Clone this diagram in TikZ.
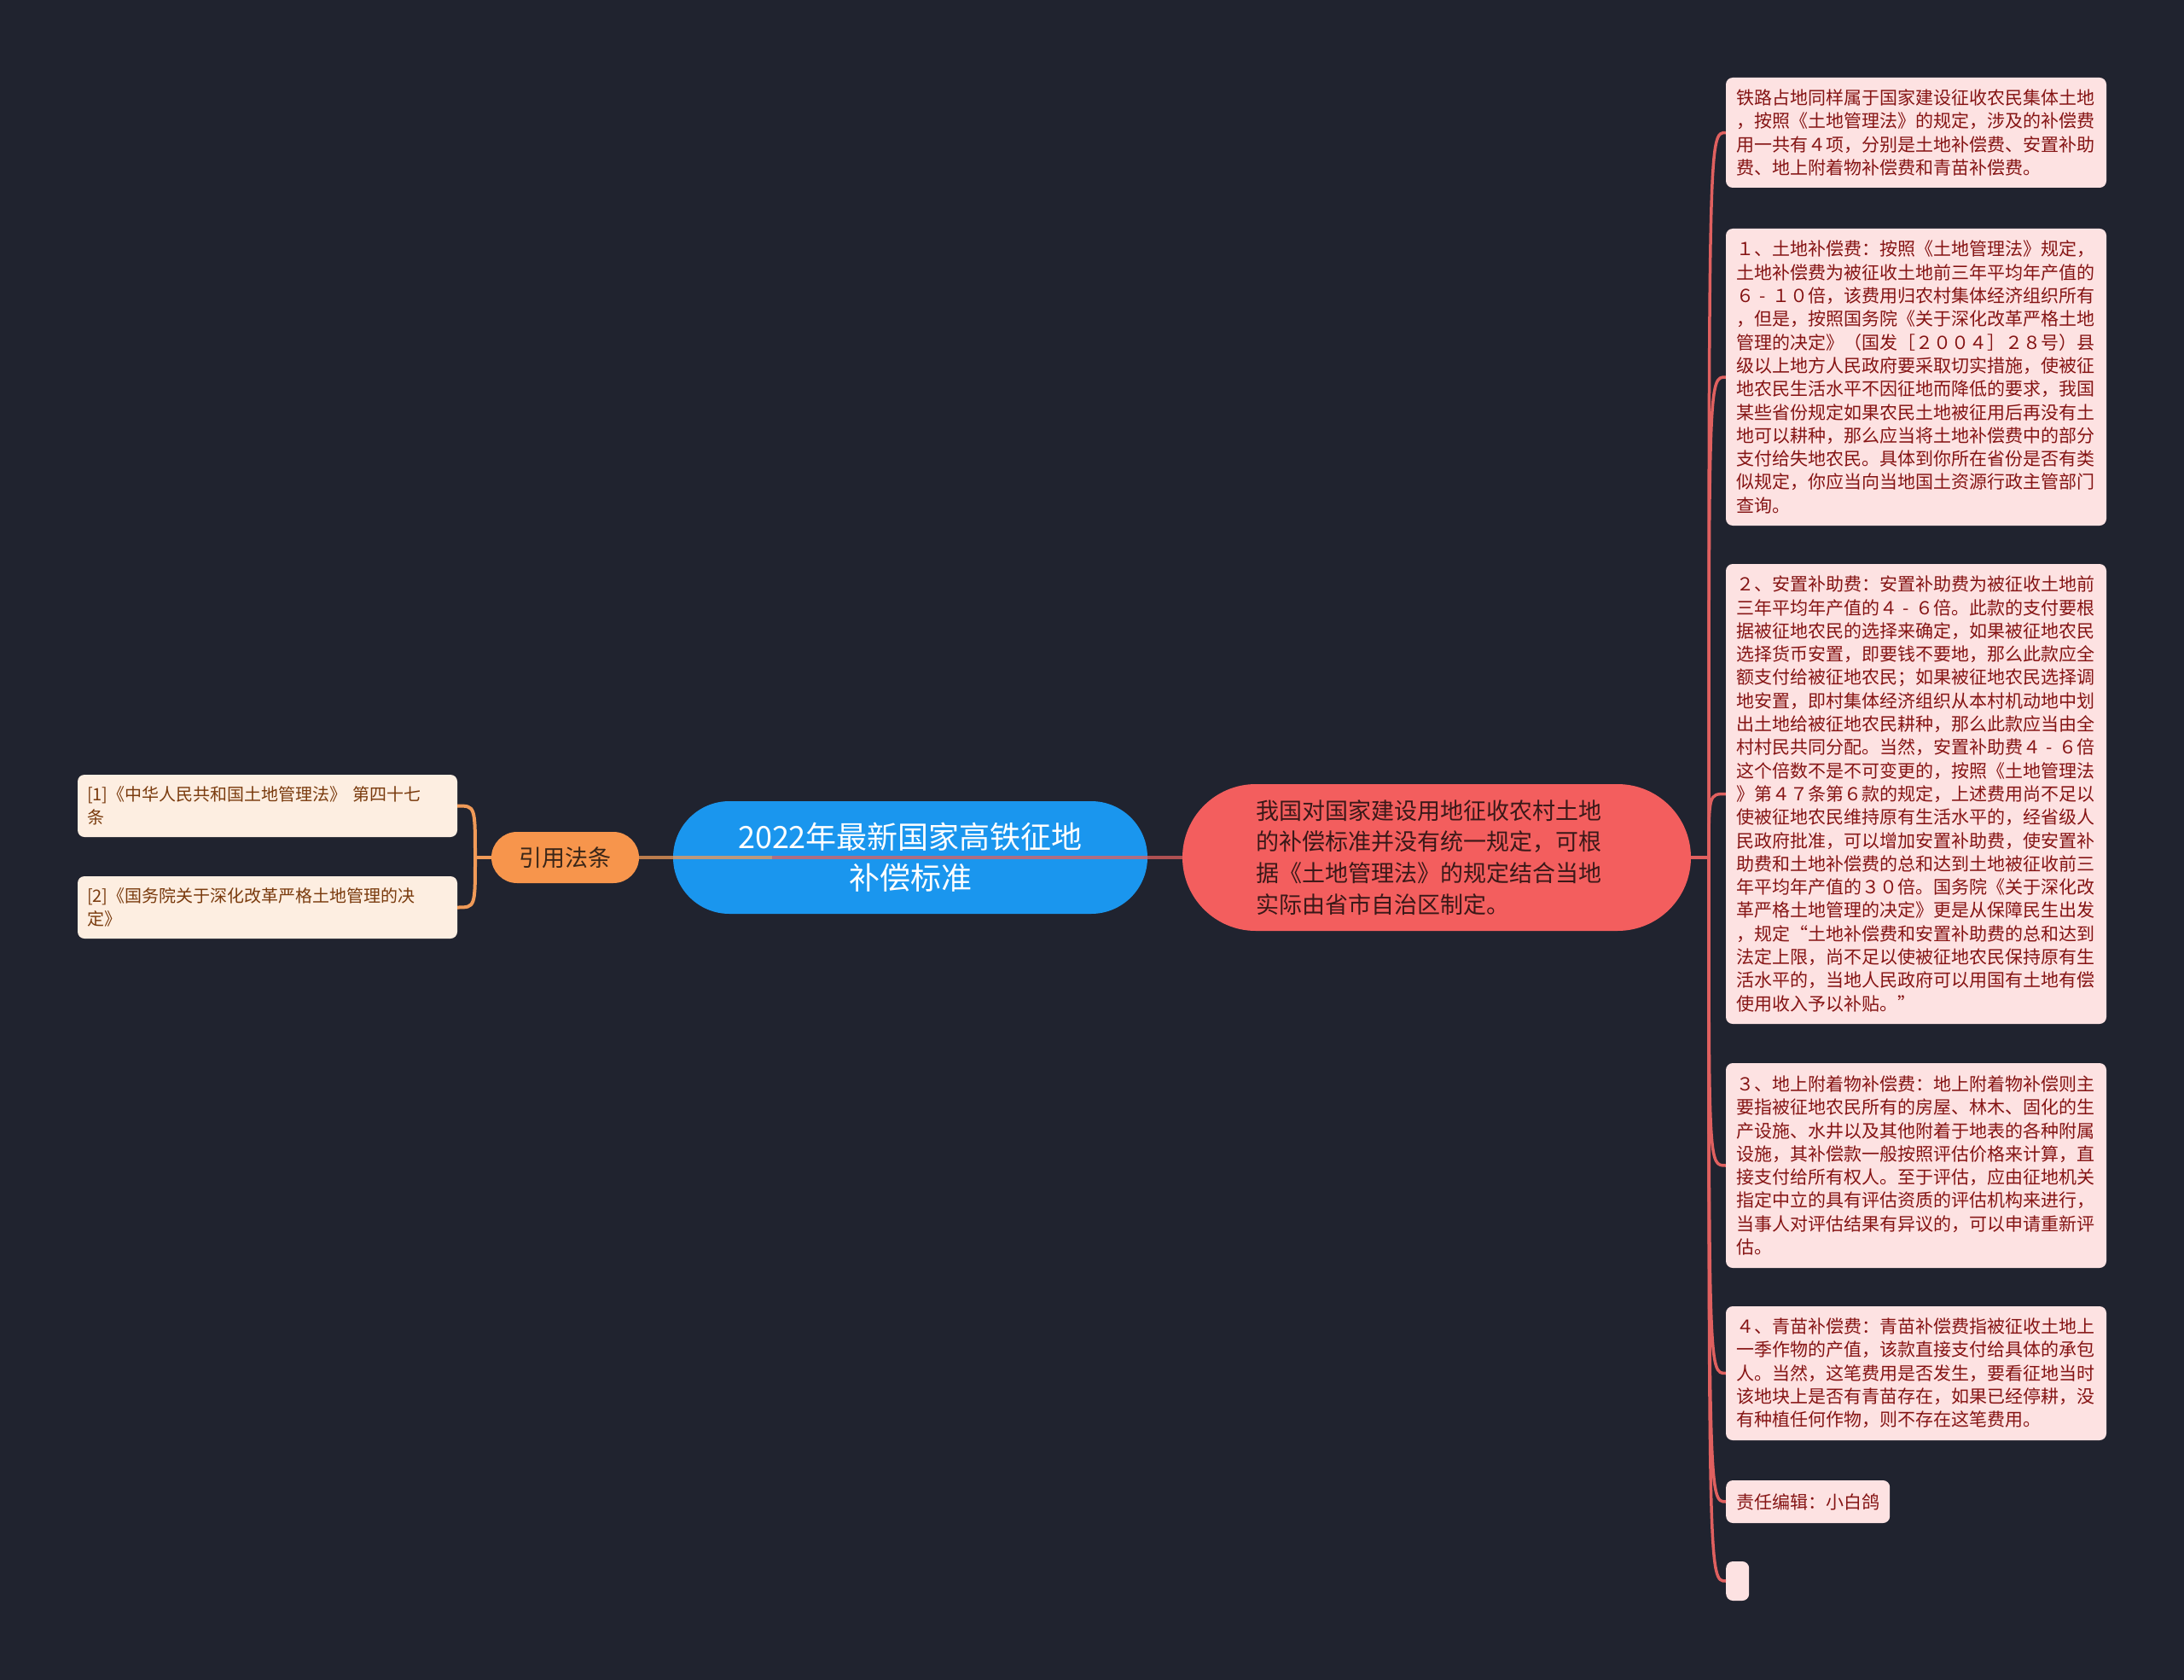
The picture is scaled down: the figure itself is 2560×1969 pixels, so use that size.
\documentclass[tikz,border=0pt]{standalone}
\usepackage{fontspec}
\setmainfont{Noto Sans CJK SC}

\definecolor{bg}{HTML}{20232F}
\definecolor{rootblue}{HTML}{1A96EE}
\definecolor{mainred}{HTML}{F35E5E}
\definecolor{maintext}{HTML}{3A1818}
\definecolor{refor}{HTML}{F7954C}
\definecolor{refortext}{HTML}{3A2618}
\definecolor{leafpink}{HTML}{FDE2E2}
\definecolor{leaftext}{HTML}{851414}
\definecolor{refpeach}{HTML}{FDEEE1}
\definecolor{reftext}{HTML}{7A3B0E}
\definecolor{linered}{HTML}{E0605F}
\definecolor{lineor}{HTML}{F09A58}

\newcommand{\fwdash}{\makebox[1em]{-}}

\begin{document}
\begin{tikzpicture}[x=1pt,y=-1pt]\tikzstyle{every node} = [align=left, inner sep=0pt]
      \tikzstyle{leafbase} = [fill=leafpink, text=leaftext, rounded corners=8pt,
        inner xsep=12pt, inner ysep=10pt, font={\fontsize{21pt}{27.3pt}\selectfont}]
      \tikzstyle{leaf} = [leafbase, text width=422pt]
      \tikzstyle{refleaf} = [fill=refpeach, text=reftext, rounded corners=8pt,
        inner xsep=11pt, text width=423pt, minimum height=73pt,
        font={\fontsize{20pt}{27pt}\selectfont}]
      \tikzstyle{redline} = [draw=linered, line width=3.5pt]
      \tikzstyle{orline} = [draw=lineor, line width=4pt]

      \fill[bg] (0,0) rectangle (2560,1969);
      \useasboundingbox (0,0) rectangle (2560,1969);

      % middle row
      \node[fill=rootblue, text=white, rounded corners=66pt, align=center,
        minimum width=556pt, minimum height=132pt,
        font={\fontsize{36pt}{48pt}\selectfont}] (root) at (1067,1005)
        {2022年最新国家高铁征地\\补偿标准};
      \node[fill=mainred, text=maintext, rounded corners=86pt,
        minimum width=596pt, minimum height=172pt, text width=424pt,
        font={\fontsize{27pt}{36.7pt}\selectfont}] (main) at (1684,1005)
        {我国对国家建设用地征收农村土地\\
         的补偿标准并没有统一规定，可根\\
         据《土地管理法》的规定结合当地\\
         实际由省市自治区制定。};
      \node[fill=refor, text=refortext, rounded corners=30pt, align=center,
        minimum width=173pt, minimum height=60pt,
        font={\fontsize{27pt}{32pt}\selectfont}] (refs) at (662.5,1005) {引用法条};

      % cited laws
      \node[refleaf] (r1) at (313.5,944.5) {[1]《中华人民共和国土地管理法》 第四十七\\条};
      \node[refleaf] (r2) at (313.5,1063.5) {[2]《国务院关于深化改革严格土地管理的决\\定》};

      % details
      \node[leaf, minimum height=129pt] (b0) at (2246,155.5)
        {铁路占地同样属于国家建设征收农民集体土地\\
         ，按照《土地管理法》的规定，涉及的补偿费\\
         用一共有４项，分别是土地补偿费、安置补助\\
         费、地上附着物补偿费和青苗补偿费。};
      \node[leaf, minimum height=348pt] (b1) at (2246,442)
        {１、土地补偿费：按照《土地管理法》规定，\\
         土地补偿费为被征收土地前三年平均年产值的\\
         ６\fwdash １０倍，该费用归农村集体经济组织所有\\
         ，但是，按照国务院《关于深化改革严格土地\\
         管理的决定》（国发［２００４］２８号）县\\
         级以上地方人民政府要采取切实措施，使被征\\
         地农民生活水平不因征地而降低的要求，我国\\
         某些省份规定如果农民土地被征用后再没有土\\
         地可以耕种，那么应当将土地补偿费中的部分\\
         支付给失地农民。具体到你所在省份是否有类\\
         似规定，你应当向当地国土资源行政主管部门\\
         查询。};
      \node[leaf, minimum height=539pt] (b2) at (2246,930.5)
        {２、安置补助费：安置补助费为被征收土地前\\
         三年平均年产值的４\fwdash ６倍。此款的支付要根\\
         据被征地农民的选择来确定，如果被征地农民\\
         选择货币安置，即要钱不要地，那么此款应全\\
         额支付给被征地农民；如果被征地农民选择调\\
         地安置，即村集体经济组织从本村机动地中划\\
         出土地给被征地农民耕种，那么此款应当由全\\
         村村民共同分配。当然，安置补助费４\fwdash ６倍\\
         这个倍数不是不可变更的，按照《土地管理法\\
         》第４７条第６款的规定，上述费用尚不足以\\
         使被征地农民维持原有生活水平的，经省级人\\
         民政府批准，可以增加安置补助费，使安置补\\
         助费和土地补偿费的总和达到土地被征收前三\\
         年平均年产值的３０倍。国务院《关于深化改\\
         革严格土地管理的决定》更是从保障民生出发\\
         ，规定“土地补偿费和安置补助费的总和达到\\
         法定上限，尚不足以使被征地农民保持原有生\\
         活水平的，当地人民政府可以用国有土地有偿\\
         使用收入予以补贴。”};
      \node[leaf, minimum height=240pt] (b3) at (2246,1366)
        {３、地上附着物补偿费：地上附着物补偿则主\\
         要指被征地农民所有的房屋、林木、固化的生\\
         产设施、水井以及其他附着于地表的各种附属\\
         设施，其补偿款一般按照评估价格来计算，直\\
         接支付给所有权人。至于评估，应由征地机关\\
         指定中立的具有评估资质的评估机构来进行，\\
         当事人对评估结果有异议的，可以申请重新评\\
         估。};
      \node[leaf, minimum height=157pt] (b4) at (2246,1609.5)
        {４、青苗补偿费：青苗补偿费指被征收土地上\\
         一季作物的产值，该款直接支付给具体的承包\\
         人。当然，这笔费用是否发生，要看征地当时\\
         该地块上是否有青苗存在，如果已经停耕，没\\
         有种植任何作物，则不存在这笔费用。};
      \node[leafbase, anchor=west, minimum height=50pt] (b5) at (2023,1760) {责任编辑：小白鸽};
      \node[leafbase, anchor=west, inner sep=0pt, minimum width=27pt, minimum height=46pt] (b6) at (2023,1853) {};

      % connectors
      \coordinate (split) at (905,1005);
      \coordinate (hub) at (2003,1005);
      \coordinate (lhub) at (557,1005);

      \draw[orline, opacity=.75] (split) -- (refs.east);
      \draw[redline, opacity=.75] (split) -- (main.west);

      \draw[redline] (main.east) -- (hub);
      \foreach \b in {b0,b1,b2,b3,b4,b5,b6}
        \draw[redline] (hub) .. controls (hub |- \b.west) .. (\b.west);

      \draw[orline] (refs.west) -- (lhub);
      \foreach \r in {r1,r2}
        \draw[orline] (lhub) .. controls (lhub |- \r.east) .. (\r.east);
    \end{tikzpicture}
\end{document}
